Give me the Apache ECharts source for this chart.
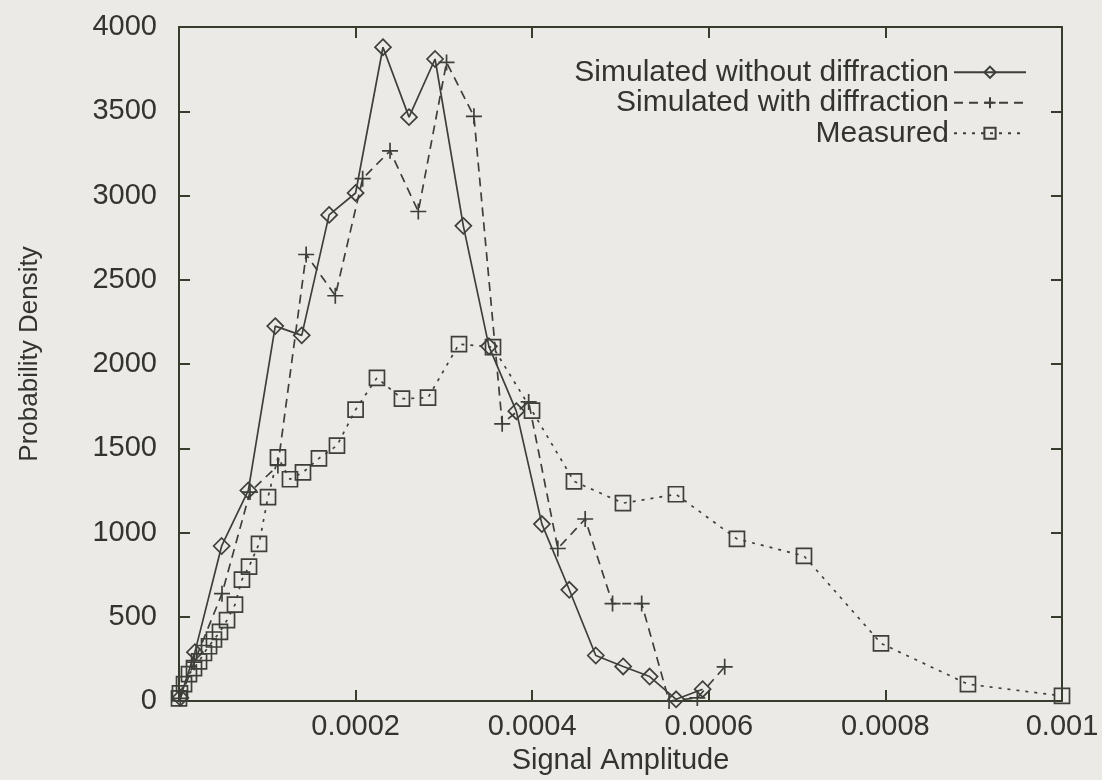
<!DOCTYPE html>
<html>
<head>
<meta charset="utf-8">
<script src="https://cdn.jsdelivr.net/npm/echarts@6/dist/echarts.min.js"></script>
<style>
  html, body { margin: 0; padding: 0; background: #ebeae6; }
  #chart { width: 1102px; height: 780px; }
</style>
</head>
<body>
<div id="chart"></div>
<script>
// Simulated amplitude distribution, no diffraction
const noDiffX = [0.0000015, 0.000018, 0.0000483, 0.0000785, 0.000109, 0.000139, 0.00017, 0.0002,
  0.000231, 0.0002605, 0.00029, 0.000322, 0.000351, 0.000382, 0.000411, 0.000442, 0.000472,
  0.000503, 0.000533, 0.000563, 0.000593];
const noDiffY = [20, 290, 920, 1250, 2225, 2170, 2885, 3015, 3880, 3465, 3810, 2820, 2105,
  1720, 1050, 660, 270, 205, 145, 10, 70];

// Simulated amplitude distribution, with diffraction
const withDiffX = [0.0000015, 0.0000172, 0.0000487, 0.0000804, 0.000112, 0.000144, 0.000177,
  0.000208, 0.000239, 0.000271, 0.000303, 0.000334, 0.000366, 0.000396, 0.000429, 0.00046,
  0.000491, 0.000524, 0.000555, 0.000587, 0.000618];
const withDiffY = [15, 230, 637, 1240, 1398, 2650, 2405, 3100, 3265, 2905, 3790, 3470, 1645,
  1775, 905, 1080, 578, 578, 0, 18, 203];

// Measured amplitude distribution
const measuredX = [0, 0.0000011, 0.0000057, 0.0000113, 0.000017, 0.0000227, 0.0000283,
  0.000034, 0.0000396, 0.0000464, 0.0000544, 0.0000634, 0.0000713, 0.0000793, 0.0000906,
  0.0001008, 0.0001121, 0.0001257, 0.0001404, 0.0001585, 0.0001789, 0.0002, 0.0002242,
  0.0002525, 0.000282, 0.0003171, 0.0003556, 0.0003998, 0.0004473, 0.0005028, 0.0005628,
  0.0006319, 0.0007078, 0.000795, 0.0008935, 0.001];
const measuredY = [15, 45, 100, 160, 195, 235, 285, 325, 365, 410, 480, 572, 720, 797, 932,
  1210, 1446, 1316, 1357, 1440, 1516, 1729, 1918, 1794, 1800, 2118, 2100, 1723, 1304, 1174,
  1227, 962, 861, 342, 100, 30];

const seriesNames = ['Simulated without diffraction', 'Simulated with diffraction', 'Measured'];

const xMin = 0, xMax = 0.001, xStep = 0.0002;
const yMin = 0, yMax = 4000, yStep = 500;

const ink = '#3e3f3a';
const frame = '#363d2c';
const textColor = '#33332f';
const labelFont = "'Liberation Sans', Arial, Helvetica, sans-serif";

const pairs = (xs, ys) => xs.map((x, i) => [x, ys[i]]);

const hollow = { color: 'transparent', borderColor: ink, borderWidth: 1.7 };
const crossPath = 'path://M0,5 L10,5 M5,0 L5,10';

const chart = echarts.init(document.getElementById('chart'), null, { renderer: 'canvas' });

const xFmt = v => (v === 0 ? '' : String(parseFloat(v.toFixed(6))));
const yFmt = v => String(v);

// tick marks point into the plot box on all four sides
const frameAxis = {
  axisLine: { show: true, onZero: false, lineStyle: { color: frame, width: 2 } },
  axisTick: { show: true, inside: true, length: 11, lineStyle: { color: frame, width: 2 } },
  splitLine: { show: false }
};

chart.setOption({
  backgroundColor: '#ebeae6',
  animation: false,
  grid: { left: 179, right: 40, top: 27, bottom: 75, containLabel: false },
  legend: {
    orient: 'vertical',
    right: 70,
    top: 52,
    align: 'right',
    itemWidth: 72,
    itemHeight: 14,
    itemGap: 0,
    textStyle: { fontFamily: labelFont, fontSize: 30, lineHeight: 30.5, color: textColor },
    data: seriesNames
  },
  xAxis: [Object.assign({
    type: 'value', min: xMin, max: xMax, interval: xStep,
    name: 'Signal Amplitude', nameLocation: 'middle', nameGap: 45,
    nameTextStyle: { fontFamily: labelFont, fontSize: 29, color: textColor },
    axisLabel: { formatter: xFmt, margin: 11, fontFamily: labelFont, fontSize: 29, color: textColor }
  }, frameAxis), Object.assign({
    type: 'value', position: 'top', min: xMin, max: xMax, interval: xStep,
    axisLabel: { show: false }
  }, frameAxis)],
  yAxis: [Object.assign({
    type: 'value', min: yMin, max: yMax, interval: yStep,
    name: 'Probability Density', nameLocation: 'middle', nameGap: 136, nameRotate: 90,
    nameTextStyle: { fontFamily: labelFont, fontSize: 26, color: textColor, padding: [0, 0, 0, 20] },
    axisLabel: { formatter: yFmt, margin: 22, fontFamily: labelFont, fontSize: 29, color: textColor }
  }, frameAxis), Object.assign({
    type: 'value', position: 'right', min: yMin, max: yMax, interval: yStep,
    axisLabel: { show: false }
  }, frameAxis)],
  series: [{
    name: seriesNames[0], type: 'line', xAxisIndex: 0, yAxisIndex: 0,
    data: pairs(noDiffX, noDiffY),
    symbol: 'diamond', symbolSize: 16,
    itemStyle: hollow,
    lineStyle: { color: ink, width: 1.7, type: 'solid' },
    z: 4
  }, {
    name: seriesNames[1], type: 'line', xAxisIndex: 0, yAxisIndex: 0,
    data: pairs(withDiffX, withDiffY),
    symbol: crossPath, symbolSize: 16,
    itemStyle: hollow,
    lineStyle: { color: ink, width: 1.7, type: [9, 6] },
    z: 3
  }, {
    name: seriesNames[2], type: 'line', xAxisIndex: 0, yAxisIndex: 0,
    data: pairs(measuredX, measuredY),
    symbol: 'rect', symbolSize: 15,
    itemStyle: hollow,
    lineStyle: { color: ink, width: 1.7, type: [3, 6] },
    z: 2
  }]
});
</script>
</body>
</html>
